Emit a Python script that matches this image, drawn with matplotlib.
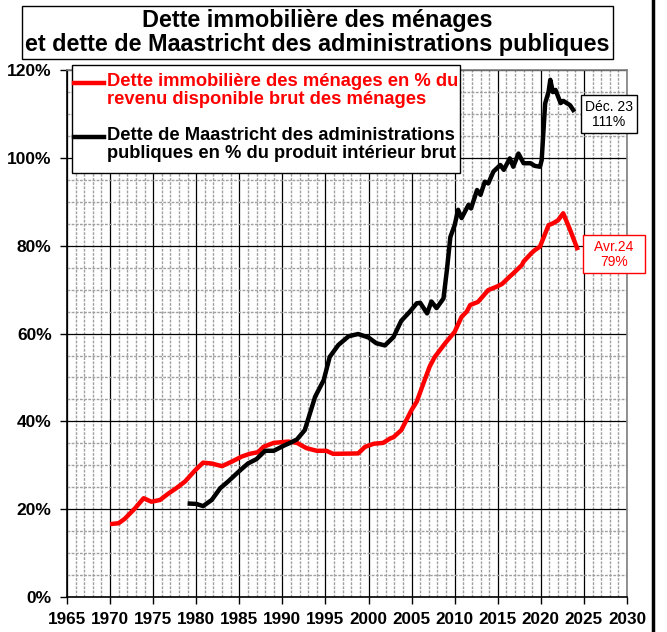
import numpy as np
import matplotlib
matplotlib.use("Agg")
import matplotlib.pyplot as plt
from matplotlib.lines import Line2D
from matplotlib.patches import Rectangle
from matplotlib.ticker import MultipleLocator, FuncFormatter

plt.rcParams['font.family'] = ['Liberation Sans', 'DejaVu Sans']

# Dette immobiliere des menages (% du revenu disponible brut)
menages_t = [1970.0, 1971.0, 1971.7, 1972.9, 1973.9, 1974.8, 1975.8, 1976.8, 1977.7,
             1978.7, 1979.9, 1980.8, 1981.8, 1983.0, 1984.1, 1985.3, 1986.2, 1987.2,
             1987.8, 1989.0, 1990.7, 1991.7, 1992.8, 1994.0, 1995.1, 1995.9, 1998.8,
             1999.6, 2000.6, 2001.7, 2002.5, 2002.9, 2003.8, 2004.4, 2005.0, 2005.6,
             2006.4, 2007.1, 2007.7, 2008.9, 2010.0, 2010.8, 2011.4, 2011.8, 2012.7,
             2013.9, 2014.9, 2015.5, 2016.4, 2016.8, 2017.8, 2018.0, 2018.9, 2019.3,
             2019.9, 2020.9, 2021.4, 2022.0, 2022.6, 2023.4, 2024.3]
menages_v = [16.6, 16.8, 17.8, 20.2, 22.5, 21.7, 22.1, 23.6, 24.8,
             26.3, 28.9, 30.6, 30.4, 29.8, 30.8, 32.0, 32.6, 33.0,
             34.2, 35.1, 35.4, 35.1, 33.9, 33.3, 33.3, 32.6, 32.7,
             34.2, 34.9, 35.1, 36.1, 36.4, 38.0, 40.3, 42.6, 44.5,
             48.8, 52.5, 54.7, 57.8, 60.4, 63.8, 65.0, 66.5, 67.2,
             69.9, 70.7, 71.3, 73.0, 73.7, 75.6, 76.4, 78.3, 79.0,
             79.8, 84.7, 85.1, 85.8, 87.4, 83.6, 79.0]

# Dette de Maastricht des APU (% du PIB)
apu_t = [1979.0, 1980.0, 1980.8, 1981.8, 1982.8, 1983.7, 1984.9, 1986.0, 1987.0,
         1988.0, 1989.0, 1990.1, 1991.0, 1991.7, 1992.6, 1993.2, 1993.8, 1994.8,
         1995.5, 1996.5, 1997.7, 1998.8, 2000.0, 2000.9, 2001.9, 2002.9, 2003.8,
         2004.8, 2005.6, 2006.0, 2006.8, 2007.3, 2007.9, 2008.7, 2009.1, 2009.5,
         2010.0, 2010.4, 2010.8, 2011.6, 2011.9, 2012.6, 2013.0, 2013.5, 2013.9,
         2014.5, 2015.3, 2015.7, 2016.4, 2016.8, 2017.4, 2018.0, 2018.8, 2019.3,
         2019.9, 2020.1, 2020.5, 2020.9, 2021.1, 2021.4, 2021.7, 2022.0, 2022.3,
         2022.6, 2023.0, 2023.4, 2023.9]
apu_v = [21.3, 21.2, 20.7, 22.1, 24.8, 26.3, 28.5, 30.4, 31.4,
         33.3, 33.3, 34.4, 35.2, 35.9, 38.0, 41.8, 45.6, 49.4,
         54.7, 57.4, 59.4, 59.9, 59.1, 57.8, 57.3, 59.2, 62.9,
         65.0, 66.9, 67.0, 64.6, 67.3, 65.8, 68.0, 74.5, 82.0,
         84.7, 88.2, 86.3, 89.3, 88.5, 92.7, 91.6, 94.6, 94.2,
         96.9, 98.4, 97.3, 99.9, 98.0, 101.0, 98.8, 98.8, 98.2,
         98.0, 99.5, 112.4, 115.1, 117.8, 115.0, 115.5, 114.0, 112.5,
         113.0, 112.5, 112.0, 110.5]

labels = ["Dette immobilière des ménages en % du\nrevenu disponible brut des ménages",
          "Dette de Maastricht des administrations\npubliques en % du produit intérieur brut"]
red = '#ff0000'
colors = [red, 'black']

W, H = 667, 632
fig = plt.figure(figsize=(W / 100, H / 100), dpi=100)
ax = fig.add_axes([0.1004, 0.0554, 0.8396, 0.8336])

ax.plot(menages_t, menages_v, color=red, lw=3.2, solid_capstyle='butt', zorder=3)
ax.plot(apu_t, apu_v, color='black', lw=3.2, solid_capstyle='butt', zorder=3)

ax.set_xlim(1965, 2030)
ax.set_ylim(0, 120)
ax.xaxis.set_major_locator(MultipleLocator(5))
ax.xaxis.set_minor_locator(MultipleLocator(1))
ax.yaxis.set_major_locator(MultipleLocator(20))
ax.yaxis.set_minor_locator(MultipleLocator(5))
ax.yaxis.set_major_formatter(FuncFormatter(lambda v, p: f"{v:.0f}%"))

ax.grid(which='minor', color='#a0a0a0', lw=1.0, ls=(0, (2, 1)), zorder=1)
ax.grid(which='major', color='black', lw=0.9, zorder=1.5)
ax.tick_params(which='major', direction='out', length=5, width=1)
ax.tick_params(which='minor', length=0)
ax.tick_params(axis='x', labelsize=12.3, pad=6)
ax.tick_params(axis='y', labelsize=12.5, pad=6)
for lab in ax.get_xticklabels() + ax.get_yticklabels():
    lab.set_fontweight('bold')
for s in ['left', 'bottom']:
    ax.spines[s].set_color('black')
    ax.spines[s].set_linewidth(1.2)
for s in ['top', 'right']:
    ax.spines[s].set_color('#808080')
    ax.spines[s].set_linewidth(1.2)

# legend box drawn by hand (handles sit on the first text line)
def fx(px):
    return px / W

def fy(py):
    return 1 - py / H

fig.add_artist(Rectangle((fx(72), fy(173)), fx(460) - fx(72), fy(65) - fy(173),
                         transform=fig.transFigure, fc='white', ec='black', lw=1.0, zorder=5))
for i, (lab, col) in enumerate(zip(labels, colors)):
    ytop = [83, 137][i]
    fig.add_artist(Line2D([fx(74), fx(104)], [fy(ytop), fy(ytop)], color=col, lw=3.2,
                          transform=fig.transFigure, zorder=6))
    fig.text(fx(107), fy(ytop - 10), lab, color=col, fontsize=13.2, fontweight='bold',
             ha='left', va='top', linespacing=1.07, zorder=6)

ax.text(2027.9, 110, "Déc. 23\n111%", ha='center', va='center', fontsize=10,
        linespacing=1.1, zorder=6, clip_on=False,
        bbox=dict(boxstyle='square,pad=0.3', fc='white', ec='black', lw=1))
ax.text(2028.5, 78.1, "  Avr.24  \n79%", ha='center', va='center', fontsize=10,
        color=red, linespacing=1.1, zorder=6, clip_on=False,
        bbox=dict(boxstyle='square,pad=0.3', fc='white', ec=red, lw=1))

fig.text(0.476, 0.9486, "Dette immobilière des ménages\net dette de Maastricht des administrations publiques",
         ha='center', va='center', fontsize=16.8, fontweight='bold', linespacing=1.05,
         bbox=dict(boxstyle='square,pad=0.12', fc='white', ec='black', lw=1))

fig.add_artist(Line2D([0.979, 0.979], [0, 1], color='black', lw=2.5))

fig.savefig('out.png', dpi=100)
